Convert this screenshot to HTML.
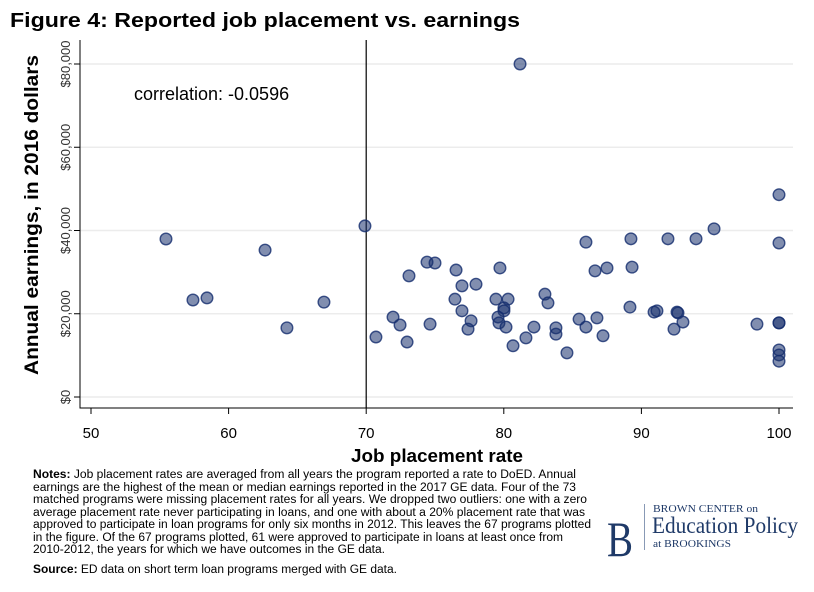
<!DOCTYPE html>
<html><head><meta charset="utf-8"><style>
html,body{margin:0;padding:0;background:#fff;}
svg{display:block;font-family:"Liberation Sans",sans-serif;}
</style></head><body>
<svg width="814" height="592" viewBox="0 0 814 592">
<rect x="0" y="0" width="814" height="592" fill="#fff"/>
<text x="10" y="27" font-size="20" font-weight="bold" textLength="510" lengthAdjust="spacingAndGlyphs">Figure 4: Reported job placement vs. earnings</text>
<g id="grid"></g>
<g id="axes"></g>
<g id="points"></g>
<text x="134" y="100" font-size="18">correlation: -0.0596</text>
<text transform="translate(38,215) rotate(-90)" text-anchor="middle" font-size="19" font-weight="bold" textLength="320" lengthAdjust="spacingAndGlyphs">Annual earnings, in 2016 dollars</text>
<text x="437" y="462" text-anchor="middle" font-size="18" font-weight="bold" textLength="172" lengthAdjust="spacingAndGlyphs">Job placement rate</text>
<g font-size="11.5">
<text x="33" y="478" textLength="543" lengthAdjust="spacingAndGlyphs"><tspan font-weight="bold">Notes:</tspan> Job placement rates are averaged from all years the program reported a rate to DoED. Annual</text>
<text x="33" y="491" textLength="543" lengthAdjust="spacingAndGlyphs">earnings are the highest of the mean or median earnings reported in the 2017 GE data. Four of the 73</text>
<text x="33" y="503" textLength="554" lengthAdjust="spacingAndGlyphs">matched programs were missing placement rates for all years. We dropped two outliers: one with a zero</text>
<text x="33" y="516" textLength="552" lengthAdjust="spacingAndGlyphs">average placement rate never participating in loans, and one with about a 20% placement rate that was</text>
<text x="33" y="528" textLength="558" lengthAdjust="spacingAndGlyphs">approved to participate in loan programs for only six months in 2012. This leaves the 67 programs plotted</text>
<text x="33" y="541" textLength="530" lengthAdjust="spacingAndGlyphs">in the figure. Of the 67 programs plotted, 61 were approved to participate in loans at least once from</text>
<text x="33" y="553" textLength="352" lengthAdjust="spacingAndGlyphs">2010-2012, the years for which we have outcomes in the GE data.</text>
<text x="33" y="573" textLength="364" lengthAdjust="spacingAndGlyphs"><tspan font-weight="bold">Source:</tspan> ED data on short term loan programs merged with GE data.</text>
</g>
<g fill="#1f3a68" font-family="'Liberation Serif',serif">
<text x="607" y="556" font-size="50" textLength="26" lengthAdjust="spacingAndGlyphs">B</text>
<rect x="644" y="504" width="1" height="46" fill="#8899b5"/>
<text x="653" y="512" font-size="11" textLength="105" lengthAdjust="spacingAndGlyphs">BROWN CENTER on</text>
<text x="652" y="533" font-size="23" textLength="146" lengthAdjust="spacingAndGlyphs">Education Policy</text>
<text x="653" y="547" font-size="10" textLength="78" lengthAdjust="spacingAndGlyphs">at BROOKINGS</text>
</g>
</svg>
<script>
const xVals=[55.45,57.41,58.43,62.65,64.24,66.93,69.91,70.71,71.95,72.46,72.97,73.11,74.42,75.0,74.64,76.53,79.72,76.96,77.98,76.45,76.96,77.62,77.40,79.43,80.31,80.01,80.01,79.58,79.65,80.16,80.67,81.61,82.19,82.99,83.21,83.79,83.79,84.59,85.47,85.97,86.77,87.21,85.97,86.63,87.50,89.24,89.32,89.17,90.92,91.13,91.93,92.59,92.66,93.02,92.37,93.97,95.28,98.40,100,100,100,100,100,100,100,81.18];
const yVals=[37.96,23.3,23.8,35.3,16.6,22.8,41.1,14.4,19.2,17.3,13.2,29.1,32.4,32.2,17.5,30.5,31.0,26.7,27.1,23.5,20.7,18.3,16.3,23.5,23.5,21.4,20.7,19.2,17.8,16.8,12.3,14.2,16.8,24.7,22.6,16.6,15.1,10.6,18.7,16.8,19.0,14.7,37.2,30.3,31.0,38.0,31.2,21.6,20.4,20.7,38.0,20.4,20.2,18.0,16.3,38.0,40.4,17.5,37.0,17.8,17.8,11.3,10.1,8.6,48.6,80.0];
const xTicks=[50,60,70,80,90,100];
const yTicks=[0,20,40,60,80];
const yTickLabels=["$0","$20,000","$40,000","$60,000","$80,000"];
const refX=70;
const NS="http://www.w3.org/2000/svg";
const X=v=>91+(v-50)*13.76;
const Y=v=>397-v*4.1625;
function mk(tag,attrs,parent){const e=document.createElementNS(NS,tag);for(const k in attrs)e.setAttribute(k,attrs[k]);parent.appendChild(e);return e;}
const grid=document.getElementById('grid'),axes=document.getElementById('axes'),pts=document.getElementById('points');
yTicks.forEach((t,i)=>{
 const g=mk('line',{x1:80,x2:793,y1:Y(t),y2:Y(t),stroke:'#ececec','stroke-width':1.5},grid);
 
 
 const tk=mk('line',{x1:74,x2:80,y1:Y(t),y2:Y(t),stroke:'#000'},axes);
 
 
 const tx=mk('text',{transform:`translate(70,${Y(t)}) rotate(-90)`,'text-anchor':'middle','font-size':13,fill:'#333'},axes);
 tx.textContent=yTickLabels[i];
 
 
});
xTicks.forEach(t=>{
 const tk=mk('line',{x1:X(t),x2:X(t),y1:408,y2:414,stroke:'#000'},axes);
 
 
 const tx=mk('text',{x:X(t),y:438,'text-anchor':'middle','font-size':15},axes);
 tx.textContent=t;
 
 
});
const ax=mk('path',{d:'M80,40 V408 H793',fill:'none',stroke:'#000','stroke-width':1},axes);


const rl=mk('line',{x1:X(refX),x2:X(refX),y1:40,y2:408,stroke:'#000','stroke-width':1.2},axes);


xVals.forEach((x,i)=>{
 const c=mk('circle',{cx:X(x),cy:Y(yVals[i]),r:5.8,fill:'rgba(26,50,110,0.55)',stroke:'rgba(20,45,110,0.8)','stroke-width':1.4},pts);
 
 
});
</script>
</body></html>
